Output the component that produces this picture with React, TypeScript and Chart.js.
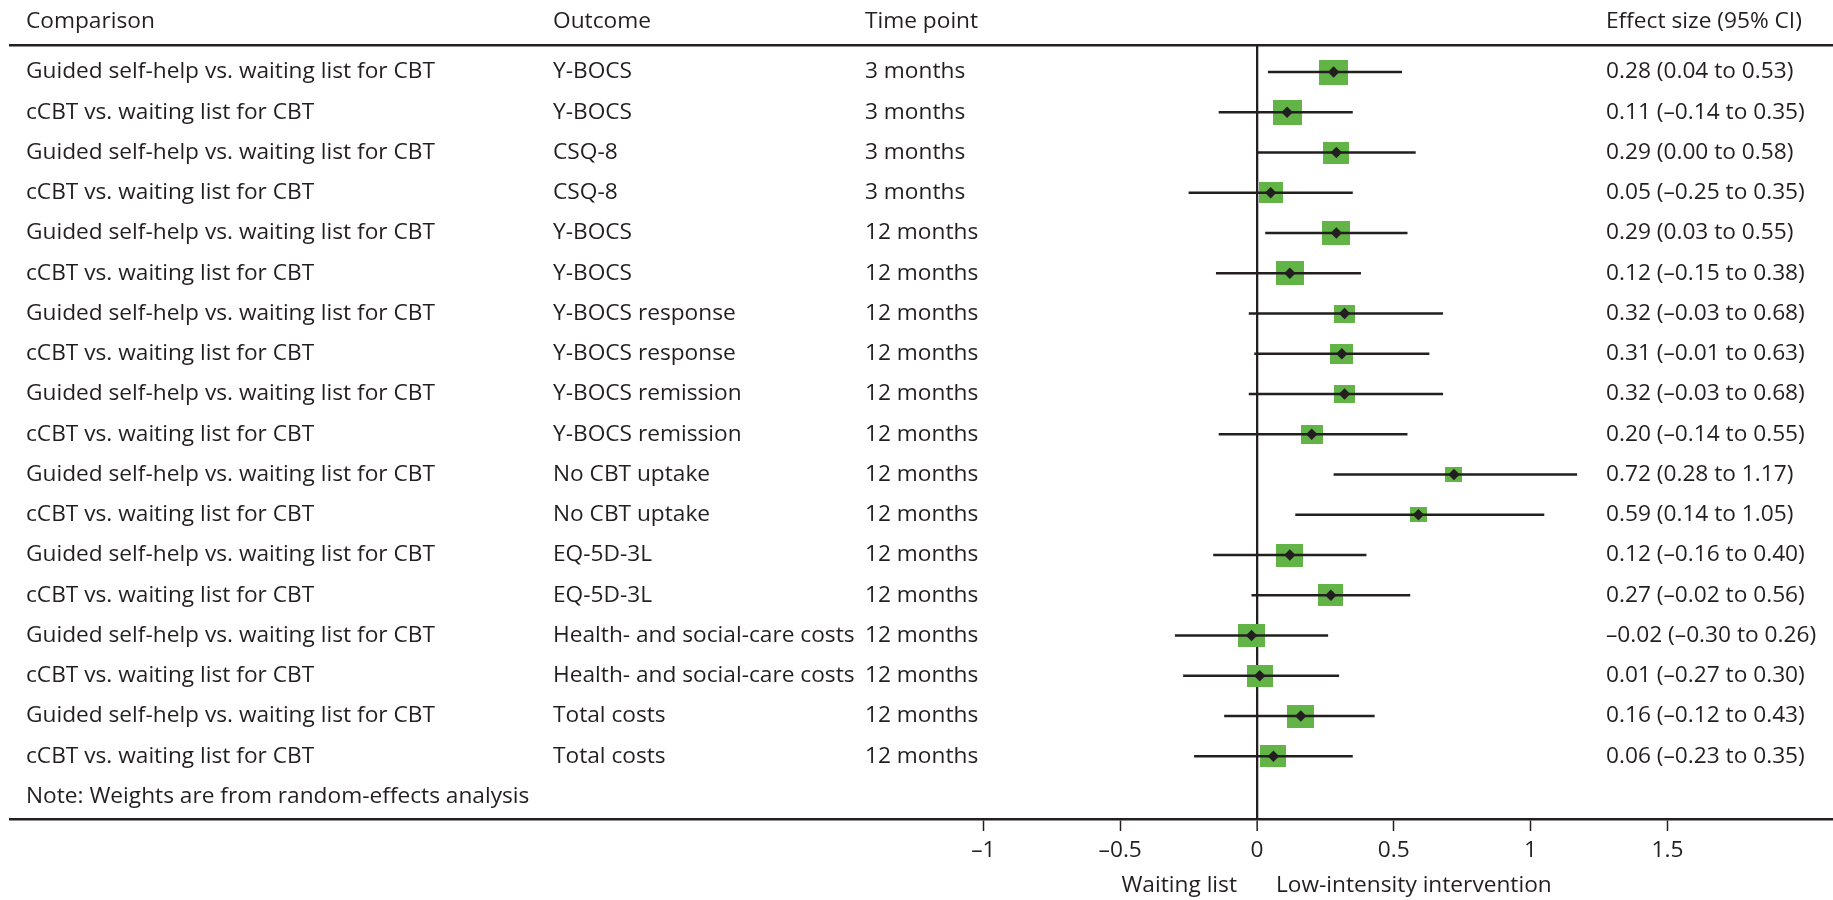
import React, { useEffect, useRef } from 'react';
import { Chart, registerables } from 'chart.js';

Chart.register(...registerables);

// ---------- data ----------
const comparisons = [
  'Guided self-help vs. waiting list for CBT',
  'cCBT vs. waiting list for CBT',
  'Guided self-help vs. waiting list for CBT',
  'cCBT vs. waiting list for CBT',
  'Guided self-help vs. waiting list for CBT',
  'cCBT vs. waiting list for CBT',
  'Guided self-help vs. waiting list for CBT',
  'cCBT vs. waiting list for CBT',
  'Guided self-help vs. waiting list for CBT',
  'cCBT vs. waiting list for CBT',
  'Guided self-help vs. waiting list for CBT',
  'cCBT vs. waiting list for CBT',
  'Guided self-help vs. waiting list for CBT',
  'cCBT vs. waiting list for CBT',
  'Guided self-help vs. waiting list for CBT',
  'cCBT vs. waiting list for CBT',
  'Guided self-help vs. waiting list for CBT',
  'cCBT vs. waiting list for CBT',
];

const outcomes = [
  'Y-BOCS', 'Y-BOCS', 'CSQ-8', 'CSQ-8', 'Y-BOCS', 'Y-BOCS',
  'Y-BOCS response', 'Y-BOCS response', 'Y-BOCS remission', 'Y-BOCS remission',
  'No CBT uptake', 'No CBT uptake', 'EQ-5D-3L', 'EQ-5D-3L',
  'Health- and social-care costs', 'Health- and social-care costs',
  'Total costs', 'Total costs',
];

const timePoints = [
  '3 months', '3 months', '3 months', '3 months',
  '12 months', '12 months', '12 months', '12 months', '12 months', '12 months',
  '12 months', '12 months', '12 months', '12 months', '12 months', '12 months',
  '12 months', '12 months',
];

const effects = [0.28, 0.11, 0.29, 0.05, 0.29, 0.12, 0.32, 0.31, 0.32, 0.20, 0.72, 0.59, 0.12, 0.27, -0.02, 0.01, 0.16, 0.06];
const ciLows = [0.04, -0.14, 0.00, -0.25, 0.03, -0.15, -0.03, -0.01, -0.03, -0.14, 0.28, 0.14, -0.16, -0.02, -0.30, -0.27, -0.12, -0.23];
const ciHighs = [0.53, 0.35, 0.58, 0.35, 0.55, 0.38, 0.68, 0.63, 0.68, 0.55, 1.17, 1.05, 0.40, 0.56, 0.26, 0.30, 0.43, 0.35];
// relative study weights (largest = 1)
const weights = [1.0, 1.0, 0.89, 0.84, 0.96, 0.96, 0.74, 0.8, 0.74, 0.77, 0.59, 0.6, 0.92, 0.87, 0.92, 0.89, 0.92, 0.89];

const headers = ['Comparison', 'Outcome', 'Time point', 'Effect size (95% CI)'];
const tickValues = [-1, -0.5, 0, 0.5, 1, 1.5];
const noteText = 'Note: Weights are from random-effects analysis';
const leftLabel = 'Waiting list';
const rightLabel = 'Low-intensity intervention';

// ---------- styling / layout ----------
const W = 1833;
const H = 900;
const FONT = '"Open Sans", "Noto Sans", sans-serif';
const FS = 22.7;
const INK = '#231f20';
const GREEN = '#62b446';
const ZERO_PX = 1257;
const UNIT_PX = 273.6;
const AREA_LEFT = 10;
const AREA_TOP = 45;
const AREA_BOTTOM = 819;
const ROW0_PX = 72;
const ROW_STEP = 40.25;
const COL_X = [26, 553, 865, 1606];
const MAX_BOX = 29;
const BOX_ASPECT = 1.17;

const xMin = (AREA_LEFT - ZERO_PX) / UNIT_PX;
const xMax = (W - ZERO_PX) / UNIT_PX;
const yMin = (AREA_TOP - ROW0_PX) / ROW_STEP;
const yMax = (AREA_BOTTOM - ROW0_PX) / ROW_STEP;
const HEADER_ROW = (22 - ROW0_PX) / ROW_STEP;
const NOTE_ROW = 18;

function fmt(v: number): string {
  return (v < 0 ? '\u2013' : '') + Math.abs(v).toFixed(2);
}

function tickFmt(v: number): string {
  return (v < 0 ? '\u2013' : '') + String(Math.abs(v));
}

const boxCache: Record<string, HTMLCanvasElement> = {};
function boxImage(weight: number): HTMLCanvasElement {
  const w = Math.round(MAX_BOX * weight);
  const h = Math.round((MAX_BOX * weight) / BOX_ASPECT);
  const key = w + 'x' + h;
  if (!boxCache[key]) {
    const c = document.createElement('canvas');
    c.width = w;
    c.height = h;
    const g = c.getContext('2d') as CanvasRenderingContext2D;
    g.fillStyle = GREEN;
    g.fillRect(0, 0, w, h);
    boxCache[key] = c;
  }
  return boxCache[key];
}

const tablePlugin = {
  id: 'forestTable',
  afterDraw(chart: any) {
    const ctx = chart.ctx as CanvasRenderingContext2D;
    const ys = chart.scales.y;
    const xs = chart.scales.x;
    ctx.save();
    ctx.font = `${FS}px ${FONT}`;
    ctx.fillStyle = INK;
    ctx.textBaseline = 'middle';
    ctx.textAlign = 'left';
    const hy = ys.getPixelForValue(HEADER_ROW);
    headers.forEach((t, i) => ctx.fillText(t, COL_X[i], hy));
    for (let i = 0; i < effects.length; i++) {
      const y = ys.getPixelForValue(i);
      ctx.fillText(comparisons[i], COL_X[0], y);
      ctx.fillText(outcomes[i], COL_X[1], y);
      ctx.fillText(timePoints[i], COL_X[2], y);
      ctx.fillText(`${fmt(effects[i])} (${fmt(ciLows[i])} to ${fmt(ciHighs[i])})`, COL_X[3], y);
    }
    ctx.fillText(noteText, COL_X[0], ys.getPixelForValue(NOTE_ROW));
    const zx = xs.getPixelForValue(0);
    const ly = 886;
    ctx.textAlign = 'right';
    ctx.fillText(leftLabel, zx - 20, ly);
    ctx.textAlign = 'left';
    ctx.fillText(rightLabel, zx + 19, ly);
    ctx.restore();
  },
};

export default function App() {
  const ref = useRef<HTMLCanvasElement | null>(null);

  useEffect(() => {
    document.body.style.margin = '0';
    const canvas = ref.current;
    if (!canvas) return;

    const ciData: any[] = [];
    effects.forEach((_, i) => {
      ciData.push({ x: ciLows[i], y: i });
      ciData.push({ x: ciHighs[i], y: i });
      ciData.push({ x: null, y: null });
    });

    const zeroPad = (s: any) => {
      s.paddingLeft = 0;
      s.paddingRight = 0;
      s.paddingTop = 0;
      s.paddingBottom = 0;
    };

    const chart = new Chart(canvas, {
      type: 'scatter',
      data: {
        datasets: [
          {
            label: 'Effect',
            data: effects.map((e, i) => ({ x: e, y: i })),
            pointStyle: 'rectRot',
            pointRadius: 5.7,
            backgroundColor: INK,
            borderColor: INK,
            borderWidth: 0,
            order: 0,
          },
          {
            label: 'CI',
            data: ciData,
            showLine: true,
            spanGaps: false,
            pointRadius: 0,
            borderColor: INK,
            borderWidth: 2.3,
            order: 1,
          },
          {
            label: 'Weight',
            data: effects.map((e, i) => ({ x: e, y: i })),
            pointStyle: (c: any) => boxImage(weights[c.dataIndex] ?? 1),
            pointRadius: 10,
            order: 2,
          } as any,
        ],
      },
      options: {
        animation: false,
        responsive: false,
        events: [],
        layout: {
          autoPadding: false,
          padding: { left: AREA_LEFT, right: 0, top: AREA_TOP, bottom: 0 },
        },
        plugins: { legend: { display: false }, tooltip: { enabled: false } },
        scales: {
          x: {
            type: 'linear',
            position: 'bottom',
            min: xMin,
            max: xMax,
            afterBuildTicks: (s: any) => {
              s.ticks = tickValues.map((v) => ({ value: v }));
            },
            afterFit: (s: any) => {
              s.height = H - AREA_BOTTOM;
              zeroPad(s);
            },
            border: { display: true, color: INK, width: 2.5 },
            grid: {
              display: true,
              drawOnChartArea: true,
              drawTicks: true,
              color: (c: any) => (c.tick && c.tick.value === 0 ? INK : 'rgba(0,0,0,0)'),
              lineWidth: (c: any) => (c.tick && c.tick.value === 0 ? 2.3 : 1),
              tickColor: INK,
              tickWidth: 1.5,
              tickLength: 12,
            },
            ticks: {
              autoSkip: false,
              maxRotation: 0,
              minRotation: 0,
              padding: 6,
              color: INK,
              font: { family: FONT, size: FS },
              callback: (v: any) => tickFmt(Number(v)),
            },
          },
          x2: {
            type: 'linear',
            position: 'top',
            min: xMin,
            max: xMax,
            afterFit: (s: any) => {
              s.height = 0;
              zeroPad(s);
            },
            border: { display: true, color: INK, width: 2.5 },
            grid: { display: false, drawTicks: false },
            ticks: { display: false },
          },
          y: {
            type: 'linear',
            display: false,
            reverse: true,
            min: yMin,
            max: yMax,
          },
        },
      },
      plugins: [tablePlugin],
    } as any);

    return () => chart.destroy();
  }, []);

  return (
    <div style={{ width: W, height: H, position: 'relative', background: '#fff' }}>
      <canvas ref={ref} width={W} height={H} style={{ display: 'block', width: W, height: H }} />
    </div>
  );
}
